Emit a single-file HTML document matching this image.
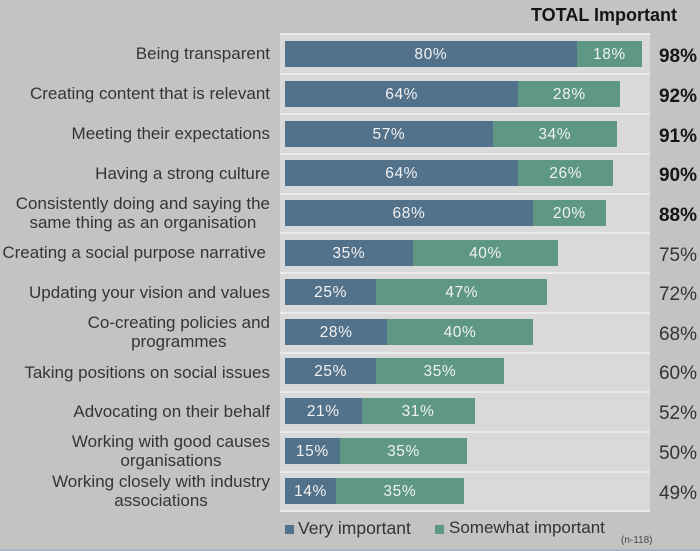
<!DOCTYPE html>
<html><head><meta charset="utf-8">
<style>
*{margin:0;padding:0;box-sizing:border-box}
body{width:700px;height:551px;background:#c3c3c3;position:relative;overflow:hidden;font-family:"Liberation Sans",sans-serif}
.panel{position:absolute;left:280px;top:34px;width:370px;height:477px;background:#d9d9d9}
.sep{position:absolute;left:280px;width:370px;height:2px;background:#ebebeb}
.bar{position:absolute;left:285px;height:26px;display:flex}
.b{background:#52718a;height:26px;color:#f2f2f2;font-size:15.5px;letter-spacing:0.6px;text-align:center;line-height:27px}
.g{background:#5e9783;height:26px;color:#f2f2f2;font-size:15.5px;letter-spacing:0.6px;text-align:center;line-height:27px}
.lab{position:absolute;right:430px;width:290px;text-align:center;color:#353535;font-size:17px;line-height:19px;display:flex;align-items:center;justify-content:flex-end;height:40px}
.lab span{display:block;text-align:center;white-space:nowrap}
.tot{position:absolute;right:3px;font-size:19px;color:#333;line-height:26px}
.tot.bd{font-weight:bold;color:#151515}
</style></head><body>
<div style="position:absolute;left:531px;top:5px;font-size:18px;font-weight:bold;color:#151515">TOTAL Important</div>
<div class="panel"></div>

<div class="sep" style="top:33px"></div>
<div class="sep" style="top:73px"></div>
<div class="sep" style="top:113px"></div>
<div class="sep" style="top:153px"></div>
<div class="sep" style="top:193px"></div>
<div class="sep" style="top:232px"></div>
<div class="sep" style="top:272px"></div>
<div class="sep" style="top:312px"></div>
<div class="sep" style="top:352px"></div>
<div class="sep" style="top:391px"></div>
<div class="sep" style="top:431px"></div>
<div class="sep" style="top:471px"></div>
<div class="sep" style="top:510px"></div>

<div class="lab" style="top:33px"><span>Being transparent</span></div>
<div class="bar" style="top:41px"><div class="b" style="width:291.6px">80%</div><div class="g" style="width:65.6px">18%</div></div>
<div class="tot bd" style="top:44px">98%</div>

<div class="lab" style="top:73px"><span>Creating content that is relevant</span></div>
<div class="bar" style="top:81px"><div class="b" style="width:233.3px">64%</div><div class="g" style="width:102.1px">28%</div></div>
<div class="tot bd" style="top:84px">92%</div>

<div class="lab" style="top:113px"><span>Meeting their expectations</span></div>
<div class="bar" style="top:121px"><div class="b" style="width:207.8px">57%</div><div class="g" style="width:123.9px">34%</div></div>
<div class="tot bd" style="top:124px">91%</div>

<div class="lab" style="top:153px"><span>Having a strong culture</span></div>
<div class="bar" style="top:160px"><div class="b" style="width:233.3px">64%</div><div class="g" style="width:94.8px">26%</div></div>
<div class="tot bd" style="top:163px">90%</div>

<div class="lab" style="top:193px"><span>Consistently doing and saying the<br>same thing as an organisation</span></div>
<div class="bar" style="top:200px"><div class="b" style="width:247.9px">68%</div><div class="g" style="width:72.9px">20%</div></div>
<div class="tot bd" style="top:203px">88%</div>

<div class="lab" style="top:232px;right:434px"><span>Creating a social purpose narrative</span></div>
<div class="bar" style="top:240px"><div class="b" style="width:127.6px">35%</div><div class="g" style="width:145.8px">40%</div></div>
<div class="tot" style="top:243px">75%</div>

<div class="lab" style="top:272px"><span>Updating your vision and values</span></div>
<div class="bar" style="top:279px"><div class="b" style="width:91.1px">25%</div><div class="g" style="width:171.3px">47%</div></div>
<div class="tot" style="top:282px">72%</div>

<div class="lab" style="top:312px"><span>Co-creating policies and<br>programmes</span></div>
<div class="bar" style="top:319px"><div class="b" style="width:102.1px">28%</div><div class="g" style="width:145.8px">40%</div></div>
<div class="tot" style="top:322px">68%</div>

<div class="lab" style="top:352px"><span>Taking positions on social issues</span></div>
<div class="bar" style="top:358px"><div class="b" style="width:91.1px">25%</div><div class="g" style="width:127.6px">35%</div></div>
<div class="tot" style="top:361px">60%</div>

<div class="lab" style="top:391px"><span>Advocating on their behalf</span></div>
<div class="bar" style="top:398px"><div class="b" style="width:76.5px">21%</div><div class="g" style="width:113px">31%</div></div>
<div class="tot" style="top:401px">52%</div>

<div class="lab" style="top:431px"><span>Working with good causes<br>organisations</span></div>
<div class="bar" style="top:438px"><div class="b" style="width:54.7px">15%</div><div class="g" style="width:127.6px">35%</div></div>
<div class="tot" style="top:441px">50%</div>

<div class="lab" style="top:471px"><span>Working closely with industry<br>associations</span></div>
<div class="bar" style="top:478px"><div class="b" style="width:51px">14%</div><div class="g" style="width:127.6px">35%</div></div>
<div class="tot" style="top:481px">49%</div>

<div style="position:absolute;left:285px;top:525px;width:9px;height:9px;background:#52718a"></div>
<div style="position:absolute;left:298px;top:517px;font-size:17.5px;color:#333;line-height:22px">Very important</div>
<div style="position:absolute;left:435px;top:525px;width:9px;height:9px;background:#5e9783"></div>
<div style="position:absolute;left:449px;top:517px;font-size:17px;color:#333;line-height:22px">Somewhat important</div>
<div style="position:absolute;left:621px;top:535px;font-size:10px;color:#444;line-height:12px">(n-118)</div>

<div style="position:absolute;left:0;top:549px;width:700px;height:2px;background:#aeb3c6"></div>
</body></html>
